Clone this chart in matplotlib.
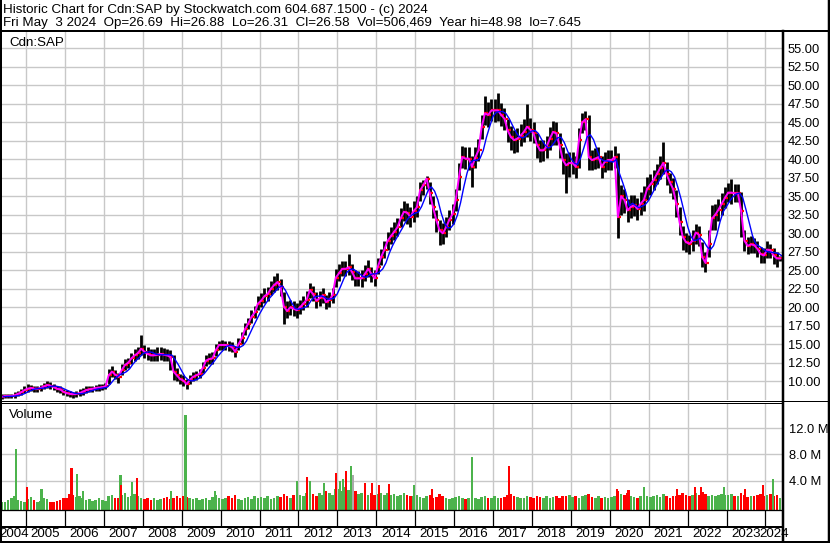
import pandas as pd
import matplotlib
matplotlib.use("Agg")
import matplotlib.pyplot as plt
from matplotlib.lines import Line2D

W, H = 830, 543

# monthly bars, May 2004 .. May 2024 (one row per calendar year)
close = [
    7.9, 8.0, 8.0, 8.0, 8.1, 8.3, 8.5, 8.8,
    9.0, 9.1, 9.0, 9.0, 9.1, 9.3, 9.5, 9.4, 9.2, 9.0, 8.9, 8.6,
    8.4, 8.3, 8.25, 8.3, 8.4, 8.6, 8.8, 8.9, 9.0, 9.1, 9.15, 9.2,
    9.3, 10.8, 11.3, 10.9, 10.6, 11.5, 12.2, 12.5, 13.1, 13.5, 13.8, 14.4,
    14.0, 13.7, 13.5, 13.5, 13.6, 13.7, 13.6, 13.5, 13.3, 11.3, 10.8, 10.3,
    10.1, 9.6, 10.2, 10.6, 10.8, 11.0, 11.8, 12.8, 13.0, 13.1, 14.2, 14.9,
    14.9, 14.9, 14.8, 14.6, 14.0, 15.0, 15.8, 17.0, 17.8, 18.7, 19.3, 20.5,
    20.9, 21.5, 21.8, 22.5, 23.0, 23.4, 22.7, 20.1, 19.5, 20.0, 19.8, 19.6,
    20.0, 20.5, 21.0, 22.3, 21.8, 20.9, 21.2, 21.6, 20.7, 21.0, 21.6, 24.0,
    24.6, 25.2, 25.2, 25.4, 24.8, 23.9, 23.9, 23.9, 24.5, 25.2, 24.5, 23.9,
    25.5, 26.8, 27.8, 29.0, 29.6, 30.2, 30.8, 32.0, 32.9, 32.8, 32.2, 33.0,
    33.5, 35.8, 36.5, 37.4, 35.4, 33.5, 31.8, 30.4, 30.0, 30.8, 31.8, 32.6,
    34.5, 37.6, 40.3, 40.1, 40.1, 39.0, 40.2, 41.2, 44.4, 46.2, 46.0, 46.6,
    46.6, 46.6, 46.0, 45.5, 43.9, 43.0, 42.6, 42.8, 43.2, 43.7, 44.4, 44.0,
    43.5, 42.0, 41.2, 41.2, 41.7, 42.8, 43.7, 43.5, 41.9, 39.9, 39.2, 39.5,
    39.5, 39.0, 42.6, 45.0, 45.4, 40.3, 39.9, 40.1, 40.3, 39.0, 39.7, 39.9,
    39.9, 40.3, 32.2, 35.0, 34.5, 33.1, 33.6, 33.8, 33.3, 34.0, 34.5, 36.0,
    36.6, 37.2, 38.0, 38.8, 39.5, 38.0, 36.9, 36.0, 34.0, 31.5, 29.5, 28.8,
    28.6, 29.0, 30.1, 29.8, 26.8, 26.0, 28.5, 32.0, 32.5, 33.2, 34.0, 34.8,
    35.5, 35.5, 35.4, 35.4, 33.0, 29.0, 28.3, 28.5, 28.4, 27.9, 27.2, 27.0,
    27.8, 27.7, 27.0, 26.6, 26.6,
]
high = [
    8.3, 8.3, 8.3, 8.3, 8.5, 8.7, 9.0, 9.3,
    9.6, 9.5, 9.4, 9.4, 9.5, 9.8, 10.1, 9.9, 9.6, 9.4, 9.3, 9.0,
    8.8, 8.7, 8.6, 8.7, 8.9, 9.1, 9.3, 9.4, 9.4, 9.5, 9.6, 9.6,
    9.8, 11.6, 12.0, 11.5, 11.1, 12.3, 13.0, 13.2, 13.8, 14.3, 14.6, 16.3,
    14.9, 14.6, 14.3, 14.4, 14.7, 14.6, 14.5, 14.3, 14.2, 13.5, 11.8, 11.0,
    10.8, 10.3, 10.9, 11.2, 11.4, 11.6, 12.6, 13.6, 13.8, 13.9, 15.0, 15.5,
    15.6, 15.5, 15.4, 15.3, 14.8, 15.8, 16.7, 17.9, 18.6, 19.6, 20.2, 21.5,
    21.9, 22.6, 22.8, 23.5, 24.2, 24.6, 23.8, 22.0, 20.8, 21.0, 20.8, 20.6,
    21.0, 21.5, 22.2, 23.3, 22.9, 22.0, 22.2, 22.6, 21.7, 22.0, 22.6, 25.2,
    25.8, 26.3, 26.2, 27.2, 25.9, 25.0, 24.9, 25.0, 25.7, 26.4, 25.5, 25.0,
    26.6, 27.9, 29.0, 30.2, 30.8, 31.5, 32.1, 33.4, 34.4, 34.1, 33.5, 34.3,
    35.0, 37.0, 37.2, 37.8, 37.0, 35.0, 33.2, 31.8, 31.4, 32.2, 33.2, 34.0,
    36.0, 39.5, 41.8, 41.6, 41.6, 40.5, 41.6, 42.8, 46.0, 48.6, 47.8, 48.2,
    48.2, 48.9, 47.6, 47.0, 45.4, 44.5, 44.0, 44.2, 44.8, 45.4, 47.5, 45.6,
    45.0, 43.5, 42.6, 42.6, 43.2, 44.3, 45.2, 45.0, 43.6, 41.6, 40.8, 41.0,
    41.0, 40.5, 44.2, 46.3, 46.5, 46.0, 41.3, 41.5, 41.6, 40.4, 41.0, 41.2,
    41.2, 41.8, 40.8, 36.5, 36.0, 34.6, 35.2, 35.2, 34.8, 35.6, 36.4, 37.6,
    38.0, 38.6, 39.4, 40.4, 42.4, 39.6, 38.2, 37.5, 35.8, 33.5, 31.0, 30.0,
    29.8, 30.5, 31.2, 31.0, 28.8, 27.5, 30.5, 33.8, 34.0, 34.6, 35.5, 36.2,
    36.8, 37.3, 36.6, 36.6, 35.6, 30.5, 29.5, 29.6, 29.3, 29.0, 28.2, 28.0,
    28.9, 28.6, 28.0, 27.5, 26.9,
]
low = [
    7.6, 7.7, 7.7, 7.7, 7.8, 8.0, 8.1, 8.4,
    8.6, 8.7, 8.6, 8.6, 8.7, 8.9, 9.1, 9.0, 8.8, 8.6, 8.4, 8.1,
    8.0, 7.9, 7.8, 7.9, 8.0, 8.2, 8.4, 8.5, 8.6, 8.7, 8.7, 8.8,
    8.9, 9.6, 10.6, 10.3, 9.8, 10.8, 11.5, 11.8, 12.4, 12.8, 13.0, 13.5,
    13.2, 12.9, 12.7, 12.8, 12.8, 12.9, 12.8, 12.7, 11.5, 10.2, 10.0, 9.6,
    9.4, 9.0, 9.6, 10.1, 10.2, 10.4, 11.1, 12.0, 12.3, 12.4, 13.4, 14.2,
    14.2, 14.2, 14.1, 13.9, 13.3, 14.2, 15.0, 16.2, 17.0, 17.9, 18.5, 19.6,
    20.0, 20.6, 20.9, 21.6, 22.1, 22.4, 21.5, 17.8, 18.5, 19.0, 18.8, 18.6,
    19.1, 19.6, 20.1, 21.3, 20.8, 19.9, 20.2, 20.6, 19.8, 20.0, 20.6, 22.8,
    23.5, 24.2, 24.2, 24.4, 23.7, 22.9, 22.9, 22.8, 23.5, 24.1, 23.4, 22.9,
    24.5, 25.7, 26.7, 27.8, 28.5, 29.1, 29.7, 30.8, 31.6, 31.2, 30.8, 31.5,
    32.2, 34.4, 35.2, 36.0, 34.0, 32.0, 30.2, 28.4, 28.6, 29.5, 30.4, 31.2,
    33.0, 35.8, 38.8, 38.7, 38.6, 36.3, 38.8, 39.8, 42.8, 44.6, 44.4, 45.2,
    45.0, 45.2, 44.5, 44.0, 42.3, 41.2, 40.8, 41.0, 41.8, 42.3, 43.0, 42.5,
    42.2, 40.2, 39.6, 39.8, 40.2, 41.2, 42.0, 42.0, 40.2, 38.0, 35.5, 37.6,
    38.0, 37.5, 38.8, 43.6, 44.0, 38.5, 38.5, 38.7, 38.8, 37.5, 38.3, 38.5,
    38.5, 38.8, 29.4, 32.5, 32.8, 31.5, 32.0, 32.3, 31.8, 32.5, 33.0, 34.5,
    35.2, 35.8, 36.6, 37.4, 38.0, 36.5, 35.4, 34.6, 32.2, 29.8, 27.8, 27.5,
    27.2, 27.6, 28.6, 28.3, 25.5, 24.8, 26.8, 30.4, 30.5, 31.6, 32.5, 33.4,
    34.2, 34.0, 34.2, 34.2, 29.5, 27.6, 27.2, 27.4, 27.3, 26.8, 26.0, 26.0,
    26.6, 26.6, 25.8, 25.4, 26.3,
]
# typical daily volume level per month, millions
volume = [
    0.7, 0.8, 1.0, 1.4, 1.6, 1.1, 0.9, 0.8,
    1.2, 1.5, 1.0, 0.8, 0.9, 1.3, 1.2, 0.8, 0.7, 0.9, 1.0, 1.3,
    1.4, 2.0, 1.8, 1.5, 1.7, 1.4, 1.0, 1.2, 0.9, 1.0, 1.3, 1.0,
    0.9, 1.6, 1.9, 1.4, 1.3, 1.8, 2.1, 1.5, 1.7, 2.0, 1.6, 1.4,
    1.2, 1.3, 1.0, 1.4, 1.0, 1.2, 1.3, 1.5, 1.2, 1.4, 1.6, 1.4,
    1.7, 1.5, 1.3, 1.2, 1.4, 1.0, 1.2, 1.3, 1.0, 1.5, 1.8, 1.4,
    1.2, 1.3, 1.6, 1.4, 1.8, 1.2, 1.0, 1.3, 1.5, 1.2, 1.7, 1.4,
    1.5, 1.3, 1.6, 1.2, 1.4, 1.7, 1.5, 2.0, 1.6, 1.4, 1.8, 2.1,
    1.8, 1.6, 2.2, 2.6, 2.0, 1.7, 2.1, 1.9, 2.4, 2.1, 1.8, 2.7,
    2.8, 2.5, 3.0, 2.6, 2.2, 2.4, 2.0, 2.1, 2.3, 1.9, 2.1, 1.8,
    2.0, 2.2, 1.9, 2.1, 1.8, 2.0, 1.7, 1.9, 2.1, 1.8, 1.6, 1.7,
    1.9, 1.5, 1.4, 1.6, 1.8, 1.3, 1.5, 2.0, 1.6, 1.4, 1.2, 1.3,
    1.5, 1.7, 1.4, 1.2, 1.3, 1.6, 1.4, 1.2, 1.5, 1.7, 1.3, 1.4,
    1.6, 1.4, 1.3, 1.5, 1.8, 2.0, 1.7, 1.5, 1.4, 1.3, 1.6, 1.5,
    1.4, 1.6, 1.5, 1.3, 1.7, 1.4, 1.5, 1.6, 1.4, 1.7, 1.6, 1.8,
    1.5, 1.7, 1.4, 1.6, 1.8, 2.0, 1.5, 1.4, 1.6, 1.4, 1.5, 1.4,
    1.5, 1.7, 2.4, 2.0, 1.8, 2.1, 1.6, 1.5, 1.4, 1.7, 1.9, 1.6,
    1.5, 1.6, 1.8, 1.5, 2.0, 1.7, 1.4, 1.6, 1.7, 1.9, 2.1, 1.8,
    1.7, 1.9, 2.1, 1.8, 2.3, 2.0, 1.7, 1.8, 1.6, 1.9, 2.0, 1.8,
    1.8, 2.0, 1.7, 1.6, 2.1, 1.9, 1.5, 1.7, 1.6, 1.8, 2.0, 1.7,
    1.8, 2.0, 1.7, 1.9, 1.4,
]
# single heavy-volume days
spike_dates = [2004.74, 2005.02, 2005.40, 2006.17, 2006.30, 2006.47, 2007.43, 2007.45,
               2007.73, 2007.85, 2008.72, 2009.10, 2009.85, 2011.96, 2012.23, 2012.30,
               2012.65, 2012.96, 2013.07, 2013.15, 2013.23, 2013.35, 2013.40, 2013.72,
               2013.89, 2014.06, 2014.32, 2014.96, 2015.43, 2016.46, 2017.42, 2020.18,
               2020.48, 2020.87, 2021.73, 2022.19, 2022.35, 2022.93, 2023.47, 2023.94,
               2024.20]
spike_vols = [8.8, 3.0, 2.7, 6.0, 5.0, 2.5, 4.8, 3.4,
              3.8, 4.4, 2.4, 14.0, 2.4, 4.0, 4.6, 4.0,
              3.6, 5.2, 3.9, 4.3, 5.5, 6.3, 4.8, 3.6,
              3.6, 3.3, 3.5, 3.4, 2.8, 7.6, 6.2, 2.8,
              2.6, 3.0, 2.8, 3.0, 3.1, 3.0, 2.75, 3.3,
              4.3]
spike_dir = ["up", "dn", "up", "dn", "up", "up", "up", "dn",
             "up", "dn", "up", "up", "up", "up", "dn", "up",
             "up", "dn", "up", "up", "dn", "up", "eq", "dn",
             "dn", "dn", "dn", "up", "dn", "up", "dn", "dn",
             "dn", "up", "dn", "dn", "dn", "up", "dn", "dn",
             "up"]

years = list(range(2004, 2025))
price_ticks = [10 + 2.5 * i for i in range(19)]
vol_ticks = [4, 8, 12]
vol_labels = ["4.0 M", "8.0 M", "12.0 M"]

header1 = "Historic Chart for Cdn:SAP by Stockwatch.com 604.687.1500 - (c) 2024"
header2 = ("Fri May  3 2024  Op=26.69  Hi=26.88  Lo=26.31  Cl=26.58  "
           "Vol=506,469  Year hi=48.98  lo=7.645")

GRID = "#c8c8c8"
GREEN = "#4cb34c"
RED = "#ff0000"

plt.rcParams["font.family"] = ["Liberation Sans", "DejaVu Sans"]
plt.rcParams["font.size"] = 9

# month centres as decimal years
months = pd.date_range("2004-05-01", periods=len(close), freq="MS")
t = months.year + (months.month - 1) / 12 + 1 / 24
df = pd.DataFrame({"close": close, "high": high, "low": low, "vol": volume}, index=t)
df["ma_long"] = df["close"].rolling(4, min_periods=1).mean()

XL = (2004.3834, 2024.424)


def box(x0, y0, x1, y1):
    return [x0 / W, 1 - y1 / H, (x1 - x0) / W, (y1 - y0) / H]


def hline(fig, y, x0, x1, px):
    fig.add_artist(Line2D([x0 / W, x1 / W], [1 - y / H, 1 - y / H],
                          transform=fig.transFigure, color="black", lw=px * 0.72))


def vline(fig, x, y0, y1, px):
    fig.add_artist(Line2D([x / W, x / W], [1 - y0 / H, 1 - y1 / H],
                          transform=fig.transFigure, color="black", lw=px * 0.72))


fig = plt.figure(figsize=(W / 100, H / 100), dpi=100)
fig.patch.set_facecolor("white")

# ---- price panel
ax = fig.add_axes(box(2, 31, 782, 400))
ax.set_xlim(*XL)
ax.set_ylim(7.47, 57.34)
ax.set_xticks(years[1:])
ax.set_yticks(price_ticks)
ax.set_yticklabels([f"{v:.2f}" for v in price_ticks])
ax.yaxis.tick_right()
ax.tick_params(axis="y", length=0, pad=4, labelsize=9.3)
ax.tick_params(axis="x", length=0, labelbottom=False)
ax.grid(True, color=GRID, lw=1)
ax.set_axisbelow(True)
for s in ax.spines.values():
    s.set_visible(False)

ax.vlines(df.index, df["low"], df["high"], colors="black", lw=2.0, zorder=2)
ax.plot(df.index + 0.03, df["close"], ls="none", marker="_", ms=3, mew=1.6,
        color=RED, zorder=2.5)
ax.plot(df.index, df["close"], color="#ff00ff", lw=1.4, zorder=3)
ax.plot(df.index + 0.04, df["ma_long"], color="#0000ff", lw=1.0, zorder=4)
ax.text(0.009, 0.985, "Cdn:SAP", transform=ax.transAxes, ha="left", va="top",
        fontsize=9.6)

# ---- volume panel
vb = -0.38
axv = fig.add_axes(box(2, 403.3, 782, 509.5))
axv.set_xlim(*XL)
axv.set_ylim(vb, 15.77)
axv.set_xticks(years[1:])
axv.set_yticks(vol_ticks)
axv.set_yticklabels(vol_labels)
axv.yaxis.tick_right()
axv.tick_params(axis="y", length=0, pad=5, labelsize=9.3)
axv.tick_params(axis="x", length=0, labelbottom=False)
axv.grid(True, color=GRID, lw=1)
axv.set_axisbelow(True)
for s in axv.spines.values():
    s.set_visible(False)

up = df["close"].diff().fillna(0) >= 0
axv.bar(df.index, df["vol"] - vb, bottom=vb, width=0.8 / 12,
        color=[GREEN if u else RED for u in up], zorder=2)
spike_col = {"up": GREEN, "dn": RED, "eq": "#aaaaaa"}
axv.bar(spike_dates, [v - vb for v in spike_vols], bottom=vb, width=0.056,
        color=[spike_col[d] for d in spike_dir], zorder=2)
axv.text(0.009, 0.95, "Volume", transform=axv.transAxes, ha="left", va="top",
         fontsize=9.6)

# ---- date strip
axd = fig.add_axes(box(2, 510, 782, 541))
axd.set_xlim(*XL)
axd.set_ylim(0, 1)
axd.axis("off")
row = (541 - 527) / 31
axd.vlines(years[1:], row, 1, colors="black", lw=0.9)
for yr in years:
    a = max(yr, XL[0])
    b = min(yr + 1, XL[1])
    axd.text((a + b) / 2, 0.22, str(yr), ha="center", va="center", fontsize=9.6)

# ---- frame lines
hline(fig, 31, 0, W, 2)
hline(fig, 400.5, 2, W, 1)
hline(fig, 402.8, 2, 782, 1)
hline(fig, 510, 2, 782, 1.3)
hline(fig, 526.8, 2, 782, 2)
hline(fig, 542, 0, W, 2)
vline(fig, 1, 0, H, 2)
vline(fig, 828.8, 0, H, 2.5)
vline(fig, 782.8, 31, H, 2.5)

fig.text(3 / W, 1 - 13 / H, header1, ha="left", va="baseline", fontsize=9.6)
fig.text(3 / W, 1 - 26 / H, header2, ha="left", va="baseline", fontsize=9.6)

fig.savefig("out.png", dpi=100)
